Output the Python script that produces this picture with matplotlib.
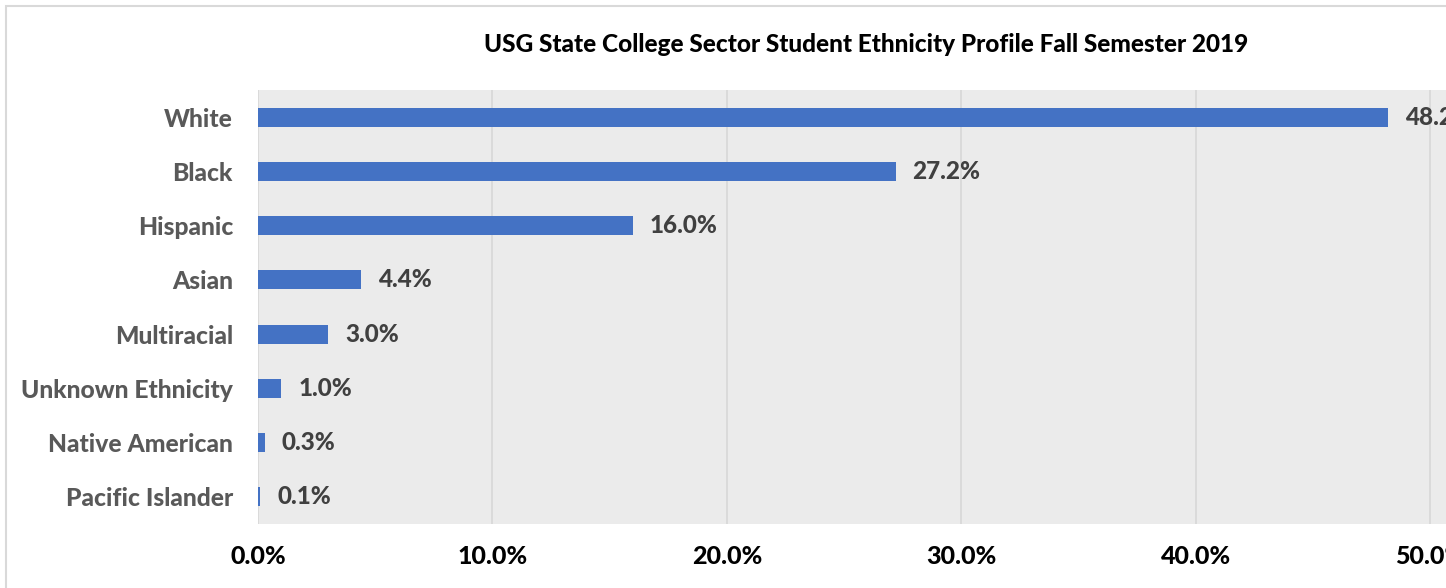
import matplotlib
matplotlib.use('Agg')
import matplotlib.pyplot as plt
from matplotlib.patches import Rectangle
from matplotlib.ticker import FuncFormatter

# ---- Data ----
categories = ['White', 'Black', 'Hispanic', 'Asian', 'Multiracial',
              'Unknown Ethnicity', 'Native American', 'Pacific Islander']
percents = [48.2, 27.2, 16.0, 4.4, 3.0, 1.0, 0.3, 0.1]
xticks = [0, 10, 20, 30, 40, 50, 60]
title = 'USG State College Sector Student Ethnicity Profile Fall Semester 2019'

W, H = 1446, 588
WEIGHT = 900
plt.rcParams['font.family'] = ['Lato', 'DejaVu Sans']
plt.rcParams['font.weight'] = WEIGHT

fig = plt.figure(figsize=(W / 100, H / 100), dpi=100)

# chart frame (only top/left edges fall inside the canvas)
fig.patches.append(Rectangle((6 / W, -0.1), 1.2, 1 - 5.5 / H + 0.1,
                             transform=fig.transFigure, fill=False,
                             edgecolor='#d9d9d9', linewidth=1.5))

# plot area: 0% at x=258, 10% per 234.5 px, y from 90 to 524
x0, px10 = 258, 234.5
ax = fig.add_axes([x0 / W, (H - 524) / H, 6 * px10 / W, 434 / H])
ax.set_facecolor('#ebebeb')

y = list(range(len(categories)))
ax.barh(y, percents, height=0.35, color='#4472c4', zorder=3)
ax.set_ylim(len(categories) - 0.5, -0.5)
ax.set_xlim(0, 60)

ax.set_xticks(xticks)
ax.xaxis.set_major_formatter(FuncFormatter(lambda v, p: f'{v:.1f}%'))
ax.grid(axis='x', color='#d9d9d9', linewidth=1.3, zorder=1)
ax.set_axisbelow(True)
for s in ax.spines.values():
    s.set_visible(False)
ax.tick_params(axis='x', length=0, pad=15, labelsize=18, labelcolor='black')
ax.tick_params(axis='y', length=0, pad=18, labelsize=17.7, labelcolor='#595959')
ax.set_yticks(y)
ax.set_yticklabels(categories)
for lbl in ax.get_xticklabels() + ax.get_yticklabels():
    lbl.set_fontweight(WEIGHT)

for yi, v in zip(y, percents):
    ax.annotate(f'{v:.1f}%', (v, yi), xytext=(12, 0), textcoords='offset points',
                va='center', ha='left', fontsize=17.5, color='#404040',
                fontweight=WEIGHT, annotation_clip=False)

fig.text(866 / W, 1 - 44 / H, title, ha='center', va='center',
         fontsize=17.6, fontweight=WEIGHT, color='black')

fig.savefig('out.png', dpi=100)
